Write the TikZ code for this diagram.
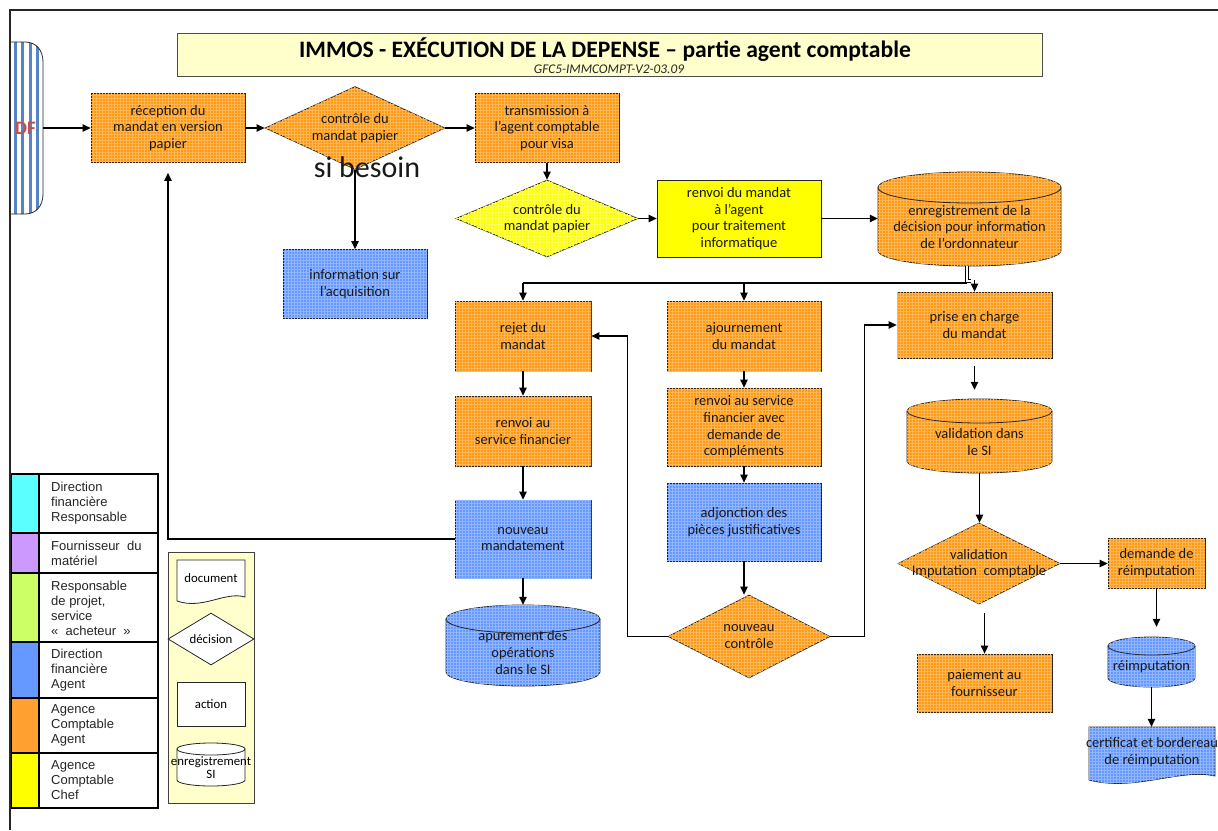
\documentclass[tikz,border=0pt]{standalone}
\usepackage{fontspec}
\setmainfont{Carlito}
\newfontfamily\arialfont{Liberation Sans}
\usetikzlibrary{shapes.geometric,arrows.meta,patterns}

\definecolor{fOrange}{HTML}{FF9A14}
\definecolor{fBlue}{HTML}{6699FF}
\definecolor{fYellow}{HTML}{FFFF00}
\definecolor{fCream}{HTML}{FFFFCC}
\definecolor{fCyan}{HTML}{5CFFFF}
\definecolor{fLilac}{HTML}{CC99FF}
\definecolor{fLime}{HTML}{CCFF66}
\definecolor{fKeyBlue}{HTML}{6699FF}
\definecolor{fKeyOrange}{HTML}{FFA030}
\definecolor{stripeBlue}{HTML}{5585C8}
\definecolor{dfRed}{HTML}{C0504D}

\newcommand\nodefont{\fontsize{14.5}{16.7}\selectfont}
\newcommand\keyfont{\fontsize{12.8}{13.5}\selectfont}
\newcommand\tablefont{\arialfont\fontsize{13}{15}\selectfont}

% drum (database) shape: name, cx, cy, width, height, lid radius, shape style, text style, text
\newcommand\drum[9]{%
  \pgfmathsetmacro\drumxa{#2-#4/2}%
  \pgfmathsetmacro\drumxb{#2+#4/2}%
  \pgfmathsetmacro\drumya{#3-#5/2+#6}%
  \pgfmathsetmacro\drumyb{#3+#5/2-#6}%
  \pgfmathsetmacro\drumrx{#4/2}%
  \path[#7] (\drumxa,\drumya) -- (\drumxa,\drumyb)
     arc[start angle=180, end angle=360, x radius=\drumrx pt, y radius=#6pt]
     -- (\drumxb,\drumya)
     arc[start angle=0, end angle=180, x radius=\drumrx pt, y radius=#6pt] -- cycle;
  \draw[outline] (\drumxa,\drumya)
     arc[start angle=180, end angle=360, x radius=\drumrx pt, y radius=#6pt];
  \node[hole, minimum width=#4pt, minimum height=#5pt] (#1) at (#2,#3) {};
  \node[#8] (#1-t) at ([yshift=-#6*0.5pt]#1.center) {#9};
}

\tikzset{
  outline/.style={draw=black!85, line width=0.8pt},
  grain/.style={postaction={pattern=grid, pattern color=#1}},
  ofill/.style={fill=fOrange, outline, grain=fOrange!72!white},
  bfill/.style={fill=fBlue, outline, grain=fBlue!72!white},
  yfill/.style={fill=fYellow, outline, grain=fYellow!65!white},
  wfill/.style={fill=white, outline},
  ntext/.style={font=\nodefont, align=center, text=black!90, inner sep=0pt},
  obox/.style={rectangle, ofill, ntext},
  bbox/.style={rectangle, bfill, ntext},
  ybox/.style={rectangle, fill=fYellow, outline, ntext},
  decide/.style={diamond, inner sep=0pt},
  hole/.style={rectangle, inner sep=0pt, draw=none},
  arr/.style={draw=black, line width=1.2pt, -{Triangle[length=8pt,width=7.5pt]}},
  ln/.style={draw=black, line width=1.2pt},
  dbl/.style={draw=black, line width=0.7pt, double=white, double distance=2.2pt},
  keytext/.style={font=\tablefont, align=left, anchor=west, inner sep=0pt, text=black!85},
  keyrule/.style={draw=black, line width=1.6pt},
}

\begin{document}
\begin{tikzpicture}[x=1pt, y=-1pt]
\useasboundingbox[fill=white] (0,0) rectangle (1218,830);

% ---- striped source drum on the left edge ----
\begin{scope}
  \clip (10.5,0) rectangle (80,830);
  \begin{scope}
    \clip (-30,42) -- (25,42) .. controls (36,42) and (43,50) .. (43,62)
       -- (43,194) .. controls (43,206) and (36,214) .. (25,214) -- (-30,214) -- cycle;
    \fill[white] (0,40) rectangle (50,220);
    \foreach \s in {6,13.5,21,28.5,36}
      \fill[stripeBlue] (\s,40) rectangle ++(3.4,180);
  \end{scope}
  \draw[outline] (-30,42) -- (25,42) .. controls (36,42) and (43,50) .. (43,62)
       -- (43,194) .. controls (43,206) and (36,214) .. (25,214) -- (-30,214);
  \node[font=\fontsize{19}{20}\selectfont\bfseries, text=dfRed, anchor=east, inner sep=0pt] (df-label) at (36,128) {DF};
\end{scope}
\coordinate (df) at (43,128);

% ---- title ----
\node[draw=black!70, line width=0.8pt, fill=fCream, minimum width=865pt, minimum height=43pt, inner sep=0pt] (title) at (609.5,54.5) {};
\node[font=\fontsize{23.6}{25}\selectfont\bfseries, inner sep=0pt] (title-main) at (605,50) {IMMOS - EXÉCUTION DE LA DEPENSE – partie agent comptable};
\node[font=\fontsize{13.3}{14}\selectfont\itshape, text=black!85, inner sep=0pt] (title-sub) at (609,69.5) {GFC5-IMMCOMPT-V2-03.09};

% ---- process boxes ----
\node[obox, minimum width=154pt, minimum height=69pt] (recep) at (168,128) {réception du\\mandat en version\\papier};
\node[decide, ofill, minimum width=180pt, minimum height=83pt] (ctrl1) at (355,128) {};
\node[ntext] (ctrl1-t) at (ctrl1) {contrôle du\\mandat papier};
\node[obox, minimum width=144pt, minimum height=69pt] (transm) at (547,128) {transmission à\\l’agent comptable\\pour visa};
\node[decide, yfill, minimum width=182pt, minimum height=77pt] (ctrl2) at (547,218.5) {};
\node[ntext] (ctrl2-t) at (ctrl2) {contrôle du\\mandat papier};
\node[ybox, minimum width=164pt, minimum height=77pt] (renvag) at (739,218.5) {renvoi du mandat\\à l’agent\\pour traitement\\informatique};
\drum{enr}{969.5}{219}{183}{94}{15.5}{ofill}{ntext}{enregistrement de la\\décision pour information\\de l’ordonnateur}
\node[bbox, minimum width=144pt, minimum height=69pt] (info) at (355,284) {information sur\\l’acquisition};

\node[obox, minimum width=136pt, minimum height=70pt] (rejet) at (523,336) {rejet du\\mandat};
\node[obox, minimum width=154pt, minimum height=70pt] (ajourn) at (744,336) {ajournement\\du mandat};
\node[obox, minimum width=155pt, minimum height=66pt] (prise) at (974.5,325) {prise en charge\\du mandat};
\node[obox, minimum width=136pt, minimum height=70pt] (renvsf) at (523,431) {renvoi au\\service financier};
\node[obox, minimum width=154pt, minimum height=78pt] (renvco) at (744,427) {renvoi au service\\financier avec\\demande de\\compléments};
\drum{valsi}{979.5}{436}{145}{74}{12}{ofill}{ntext}{validation dans\\le SI}
\node[bbox, minimum width=136pt, minimum height=78pt] (nouvmand) at (523,539) {nouveau\\mandatement};
\node[bbox, minimum width=154pt, minimum height=78pt] (adjonc) at (744,522) {adjonction des\\pièces justificatives};
\drum{apur}{523}{645.5}{154}{81}{14}{bfill}{ntext}{apurement des\\opérations\\dans le SI}
\node[decide, ofill, minimum width=162pt, minimum height=83pt] (nouvctrl) at (749,636.5) {};
\node[ntext] (nouvctrl-t) at (nouvctrl) {nouveau\\contrôle};
\node[decide, ofill, minimum width=162pt, minimum height=81pt] (valimp) at (979,563.5) {};
\node[ntext] (valimp-t) at (valimp) {validation\\Imputation\ \ comptable};
\node[obox, minimum width=97pt, minimum height=50pt] (demande) at (1156.5,563) {demande de\\réimputation};
\node[obox, minimum width=135pt, minimum height=58pt] (paiem) at (984.5,683) {paiement au\\fournisseur};
\drum{reimp}{1151.5}{662}{87}{50}{9}{bfill}{ntext}{réimputation}
\path[bfill] (1089,727) -- (1215,727) -- (1215,776)
   .. controls (1180,768) and (1135,792) .. (1089,780) -- cycle;
\node[hole, ntext, minimum width=126pt, minimum height=50pt] (cert) at (1152,752) {certificat et bordereau\\de réimputation};

% ---- connectors ----
\draw[arr] (df) -- (recep.west);
\draw[arr] (recep.east) -- (ctrl1.west);
\draw[arr] (ctrl1.east) -- (transm.west);
\draw[arr] (ctrl1.south) -- (info.north);
\draw[arr] (transm.south) -- (ctrl2.north);
\draw[arr] (ctrl2.east) -- (renvag.west);
\draw[arr] (renvag.east) -- (renvag.east -| enr.west);

\coordinate (hub) at (967,283);
\draw[ln] (hub) -- (hub -| rejet.north);
\draw[arr] (hub -| rejet.north) -- (rejet.north);
\draw[arr] (hub -| ajourn.north) -- (ajourn.north);
\draw[dbl] (enr.south -| hub) -- ([yshift=2pt]hub) -- ([xshift=4pt, yshift=2pt]hub);
\draw[arr] ([yshift=3pt]hub -| prise.north) -- (prise.north);

\draw[arr] (rejet.south) -- (renvsf.north);
\draw[arr] (renvsf.south) -- (nouvmand.north);
\draw[arr] (nouvmand.south) -- (apur.north);
\draw[arr] (nouvmand.west) -| ([yshift=-10pt]recep.south);

\draw[arr] (ajourn.south) -- (renvco.north);
\draw[arr] (renvco.south) -- (adjonc.north);
\draw[arr] (adjonc.south) -- (adjonc.south |- nouvctrl.north);
\draw[arr] (nouvctrl.west) -- ++(-40,0) |- (rejet.east);
\draw[arr] (nouvctrl.east) -- ++(34,0) |- (prise.west);

\draw[arr, shorten <=8pt, shorten >=9pt] (prise.south) -- (prise.south |- valsi.north);
\draw[arr] (valsi.south) -- (valsi.south |- valimp.north);
\draw[arr] (valimp.east) -- (valimp.east -| demande.west);
\draw[arr, shorten <=9pt] (valimp.south -| paiem.north) -- (paiem.north);
\draw[arr, shorten >=10pt] (demande.south) -- (demande.south |- reimp.north);
\draw[arr] (reimp.south) -- (reimp.south |- cert.north);

\node[font=\fontsize{30}{32}\selectfont, text=black!90, inner sep=0pt] (sibesoin) at (367,167) {si besoin};

% ---- colour key ----
\foreach \ya/\yb/\col in {474/533/fCyan, 533/573/fLilac, 573/642/fLime, 642/698/fKeyBlue, 698/753/fKeyOrange, 753/808/fYellow}
  \fill[\col] (11,\ya) rectangle (39,\yb);
\foreach \yy in {533,573,642,698,753}
  \draw[keyrule] (11,\yy) -- (158,\yy);
\draw[keyrule] (39,474) -- (39,808);
\draw[keyrule] (11,474) rectangle (158,808);
\node[keytext] (key1) at (51,503) {Direction\\financière\\Responsable};
\node[keytext] (key2) at (51,553) {Fournisseur\ \ du\\matériel};
\node[keytext] (key3) at (51,608) {Responsable\\de projet,\\service\\«\ \ acheteur\ \ »};
\node[keytext] (key4) at (51,670) {Direction\\financière\\Agent};
\node[keytext] (key5) at (51,725.5) {Agence\\Comptable\\Agent};
\node[keytext] (key6) at (51,780.5) {Agence\\Comptable\\Chef};

% ---- symbol key ----
\node[fill=fCream, draw=black!75, line width=0.8pt, minimum width=86pt, minimum height=251pt, inner sep=0pt] (symkey) at (211,677.5) {};
\path[wfill] (177,560) -- (245,560) -- (245,597)
   .. controls (225,591) and (203,610) .. (177,601) -- cycle;
\node[font=\keyfont, inner sep=0pt] (lgdoc) at (211,578) {document};
\node[decide, wfill, minimum width=86pt, minimum height=52pt] (lgdec) at (211,639) {};
\node[font=\keyfont, inner sep=0pt] (lgdec-t) at (lgdec) {décision};
\node[rectangle, wfill, font=\keyfont, minimum width=68pt, minimum height=44pt] (lgact) at (211,704) {action};
\drum{lgcyl}{211}{764.5}{68}{43}{6}{fill=white, outline}{font=\keyfont, align=center, inner sep=0pt}{enregistrement\\SI}

% ---- page frame ----
\draw[line width=1.5pt, black!85] (1218,10) -- (10,10) -- (10,830);
\end{tikzpicture}
\end{document}
